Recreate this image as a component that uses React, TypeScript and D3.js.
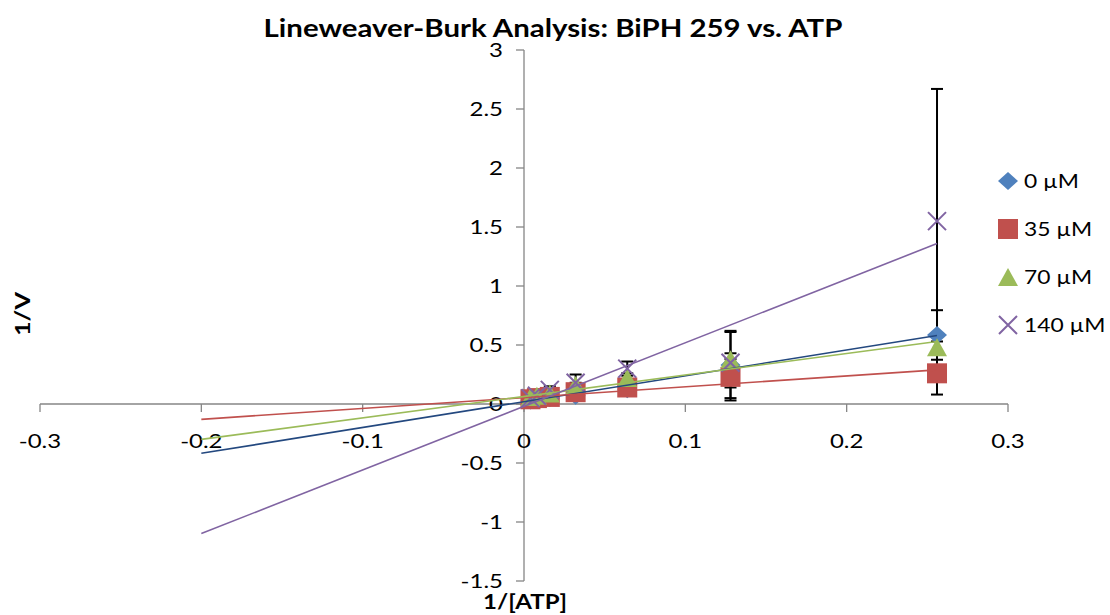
import React from 'react';
import * as d3 from 'd3';

// datos
const invAtp = [0.004, 0.008, 0.016, 0.032, 0.064, 0.128, 0.256];
const seriesNames = ['0 µM', '35 µM', '70 µM', '140 µM'];
const v0 = [0.03, 0.04, 0.05, 0.07, 0.125, 0.33, 0.585];
const v35 = [0.04, 0.05, 0.06, 0.1, 0.14, 0.23, 0.26];
const v70 = [0.06, 0.07, 0.09, 0.16, 0.22, 0.38, 0.48];
const v140 = [0.05, 0.07, 0.12, 0.18, 0.3, 0.35, 1.55];
const err0 = [0.01, 0.01, 0.02, 0.02, 0.03, 0.28, 0.21];
const err35 = [0.01, 0.01, 0.02, 0.02, 0.03, 0.2, 0.18];
const err70 = [0.01, 0.01, 0.02, 0.02, 0.04, 0.24, 0.05];
const err140 = [0.01, 0.02, 0.03, 0.07, 0.06, 0.03, 1.12];
// líneas de tendencia (pendiente, intercepto) y pronóstico hacia atrás
const slopes = [2.19, 0.92, 1.82, 5.39];
const intercepts = [0.02, 0.054, 0.064, -0.02];
const trendFrom = -0.2;
const xTicks = [-0.3, -0.2, -0.1, 0, 0.1, 0.2, 0.3];
const yTicks = [-1.5, -1, -0.5, 0, 0.5, 1, 1.5, 2, 2.5, 3];

const markerColors = ['#4F81BD', '#C0504D', '#9BBB59', '#8064A2'];
const lineColors = ['#23487F', '#C0504D', '#9BBB59', '#8064A2'];
const FONT = 'Lato, "Open Sans", sans-serif';
const SX = 1.2; // el original está estirado en horizontal

const T = ({ x, y, rot = 0, anchor = 'start', size, bold = false, dy = '0', children }: any) => (
  <text
    transform={`translate(${x},${y}) rotate(${rot}) scale(${SX},1)`}
    textAnchor={anchor}
    fontSize={size}
    fontWeight={bold ? 'bold' : 'normal'}
    dy={dy}
  >
    {children}
  </text>
);

const Marker = ({ i, x, y }: { i: number; x: number; y: number }) => {
  const c = markerColors[i];
  if (i === 0) return <path d="M0,-9L10,0L0,9L-10,0Z" fill={c} transform={`translate(${x},${y})`} />;
  if (i === 1) return <rect x={x - 10} y={y - 10} width={20} height={20} fill={c} />;
  if (i === 2) return <path d="M0,-9L10,9L-10,9Z" fill={c} transform={`translate(${x},${y})`} />;
  return (
    <path d="M-9,-9L9,9M-9,9L9,-9" stroke={c} strokeWidth={2} fill="none" transform={`translate(${x},${y})`} />
  );
};

export default function App() {
  const xSc = d3.scaleLinear().domain([-0.3, 0.3]).range([40, 1008]);
  const ySc = d3.scaleLinear().domain([-1.5, 3]).range([581, 50]);
  const vals = [v0, v35, v70, v140];
  const errs = [err0, err35, err70, err140];
  const axisColor = '#868686';

  return (
    <div style={{ position: 'fixed', left: 0, top: 0, background: '#fff' }}>
      <svg width={1110} height={615} style={{ display: 'block', fontFamily: FONT }}>
        <T x={553} y={37} anchor="middle" bold size={24.5}>
          Lineweaver-Burk Analysis: BiPH 259 vs. ATP
        </T>

        {/* ejes */}
        <line x1={xSc(-0.3)} x2={xSc(0.3)} y1={ySc(0)} y2={ySc(0)} stroke={axisColor} strokeWidth={1.3} />
        <line x1={xSc(0)} x2={xSc(0)} y1={ySc(3)} y2={ySc(-1.5)} stroke={axisColor} strokeWidth={1.3} />
        {xTicks.map((t) => (
          <g key={'x' + t}>
            <line x1={xSc(t)} x2={xSc(t)} y1={ySc(0)} y2={ySc(0) + 8} stroke={axisColor} strokeWidth={1.3} />
            <T x={xSc(t)} y={ySc(0) + 44} anchor="middle" size={20}>
              {t}
            </T>
          </g>
        ))}
        {yTicks.map((t) => (
          <g key={'y' + t}>
            <line x1={xSc(0) - 8} x2={xSc(0)} y1={ySc(t)} y2={ySc(t)} stroke={axisColor} strokeWidth={1.3} />
            <T x={xSc(0) - 21} y={ySc(t)} dy="0.36em" anchor="end" size={20}>
              {t}
            </T>
          </g>
        ))}

        {/* barras de error */}
        {vals.map((vs, s) =>
          vs.map((v, k) => {
            const x = xSc(invAtp[k]);
            const top = ySc(v + errs[s][k]);
            const bot = ySc(v - errs[s][k]);
            return (
              <g key={`e${s}-${k}`} stroke="#000" strokeWidth={2}>
                <line x1={x} x2={x} y1={top} y2={bot} />
                <line x1={x - 6} x2={x + 6} y1={top} y2={top} />
                <line x1={x - 6} x2={x + 6} y1={bot} y2={bot} />
              </g>
            );
          })
        )}

        {/* marcadores */}
        {vals.map((vs, s) =>
          vs.map((v, k) => <Marker key={`m${s}-${k}`} i={s} x={xSc(invAtp[k])} y={ySc(v)} />)
        )}

        {/* líneas de tendencia */}
        {slopes.map((m, s) => {
          const xEnd = d3.max(invAtp) as number;
          const pts = [trendFrom, xEnd];
          const path = d3
            .line<number>()
            .x((d) => xSc(d))
            .y((d) => ySc(intercepts[s] + m * d))(pts);
          return <path key={'t' + s} d={path || ''} stroke={lineColors[s]} strokeWidth={1.6} fill="none" />;
        })}

        {/* títulos de ejes */}
        <T x={30} y={314} rot={-90} anchor="middle" bold size={21}>
          1/V
        </T>
        <T x={525} y={609} anchor="middle" bold size={20}>
          1/[ATP]
        </T>

        {/* leyenda */}
        {seriesNames.map((n, i) => (
          <g key={'l' + i}>
            <Marker i={i} x={1008} y={181 + i * 48} />
            <T x={1024} y={181 + i * 48} dy="0.36em" size={19}>
              {n}
            </T>
          </g>
        ))}
      </svg>
    </div>
  );
}
